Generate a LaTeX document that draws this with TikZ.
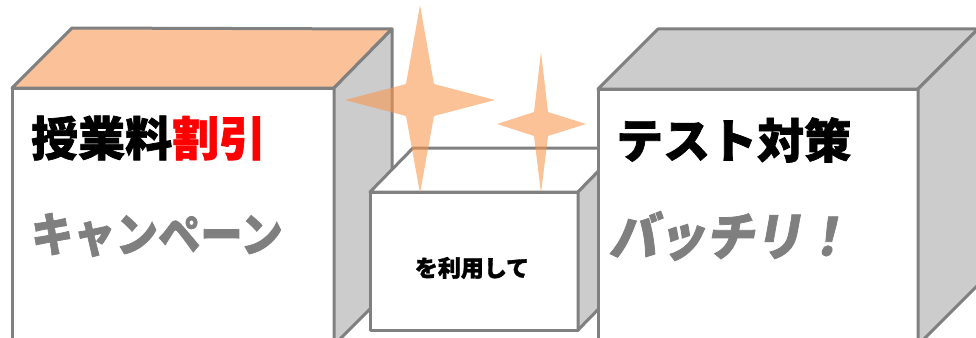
\documentclass[tikz,border=0pt]{standalone}
\usepackage{fontspec}
\newfontfamily\jp{Noto Sans CJK JP}[BoldFeatures={FakeBold=1.5}]
\definecolor{linegray}{HTML}{808080}
\definecolor{sidegray}{HTML}{CCCCCC}
\definecolor{toporange}{HTML}{FBC29A}
\definecolor{starorange}{HTML}{F7964A}
\definecolor{txtgray}{HTML}{7F7F7F}
\tikzset{
  edge/.style={draw=linegray, line width=3pt, line join=round},
  sparkle/.style={fill=starorange, fill opacity=0.58, draw=none},
  bigtxt/.style={font=\jp\bfseries\fontsize{47}{47}\selectfont, anchor=west, inner sep=0pt},
  smalltxt/.style={font=\jp\bfseries\fontsize{23}{23}\selectfont, inner sep=0pt}
}
\begin{document}
\begin{tikzpicture}[x=1pt,y=-1pt]
\useasboundingbox (0,0) rectangle (976,337);
\clip (0,0) rectangle (976,337);
% left box
\path[edge, fill=white] (12,88) rectangle (334,345);
\path[edge, fill=toporange] (12,88) -- (72,28) -- (392,29) -- (334,88) -- cycle;
\path[edge, fill=sidegray] (334,88) -- (392,29) -- (392,287) -- (334,345) -- cycle;
% middle box
\path[edge, fill=white] (370,192) rectangle (578,330);
\path[edge, fill=white] (370,192) -- (413,148) -- (621,148) -- (578,192) -- cycle;
\path[edge, fill=sidegray] (578,192) -- (621,148) -- (621,286) -- (578,330) -- cycle;
% stars
\path[sparkle] (420,5) -- (434,84) -- (495,100) -- (434,116) -- (420,193) -- (406,116) -- (345,100) -- (406,84) -- cycle;
\path[sparkle] (541,52) -- (548,112) -- (586,124) -- (548,136) -- (541,193) -- (534,136) -- (497,124) -- (534,112) -- cycle;
% right box
\path[edge, fill=white] (598,89) rectangle (918,345);
\path[edge, fill=sidegray] (598,89) -- (658,29) -- (978,29) -- (918,89) -- cycle;
\path[edge, fill=sidegray] (918,89) -- (978,29) -- (978,285) -- (918,345) -- cycle;
% texts
\node[bigtxt] (t1) at (31,138) {授業料{\color{red}割引}};
\node[bigtxt, text=txtgray, xscale=0.9] (t2) at (31,235) {キャンペーン};
\node[bigtxt] (t3) at (616,140) {テスト対策};
\node[bigtxt, text=txtgray, xslant=0.18, xscale=0.93, font=\jp\bfseries\fontsize{52}{52}\selectfont] (t4) at (612,236) {バッチリ！};
\node[smalltxt] (t5) at (472,268) {を利用して};
\end{tikzpicture}
\end{document}
